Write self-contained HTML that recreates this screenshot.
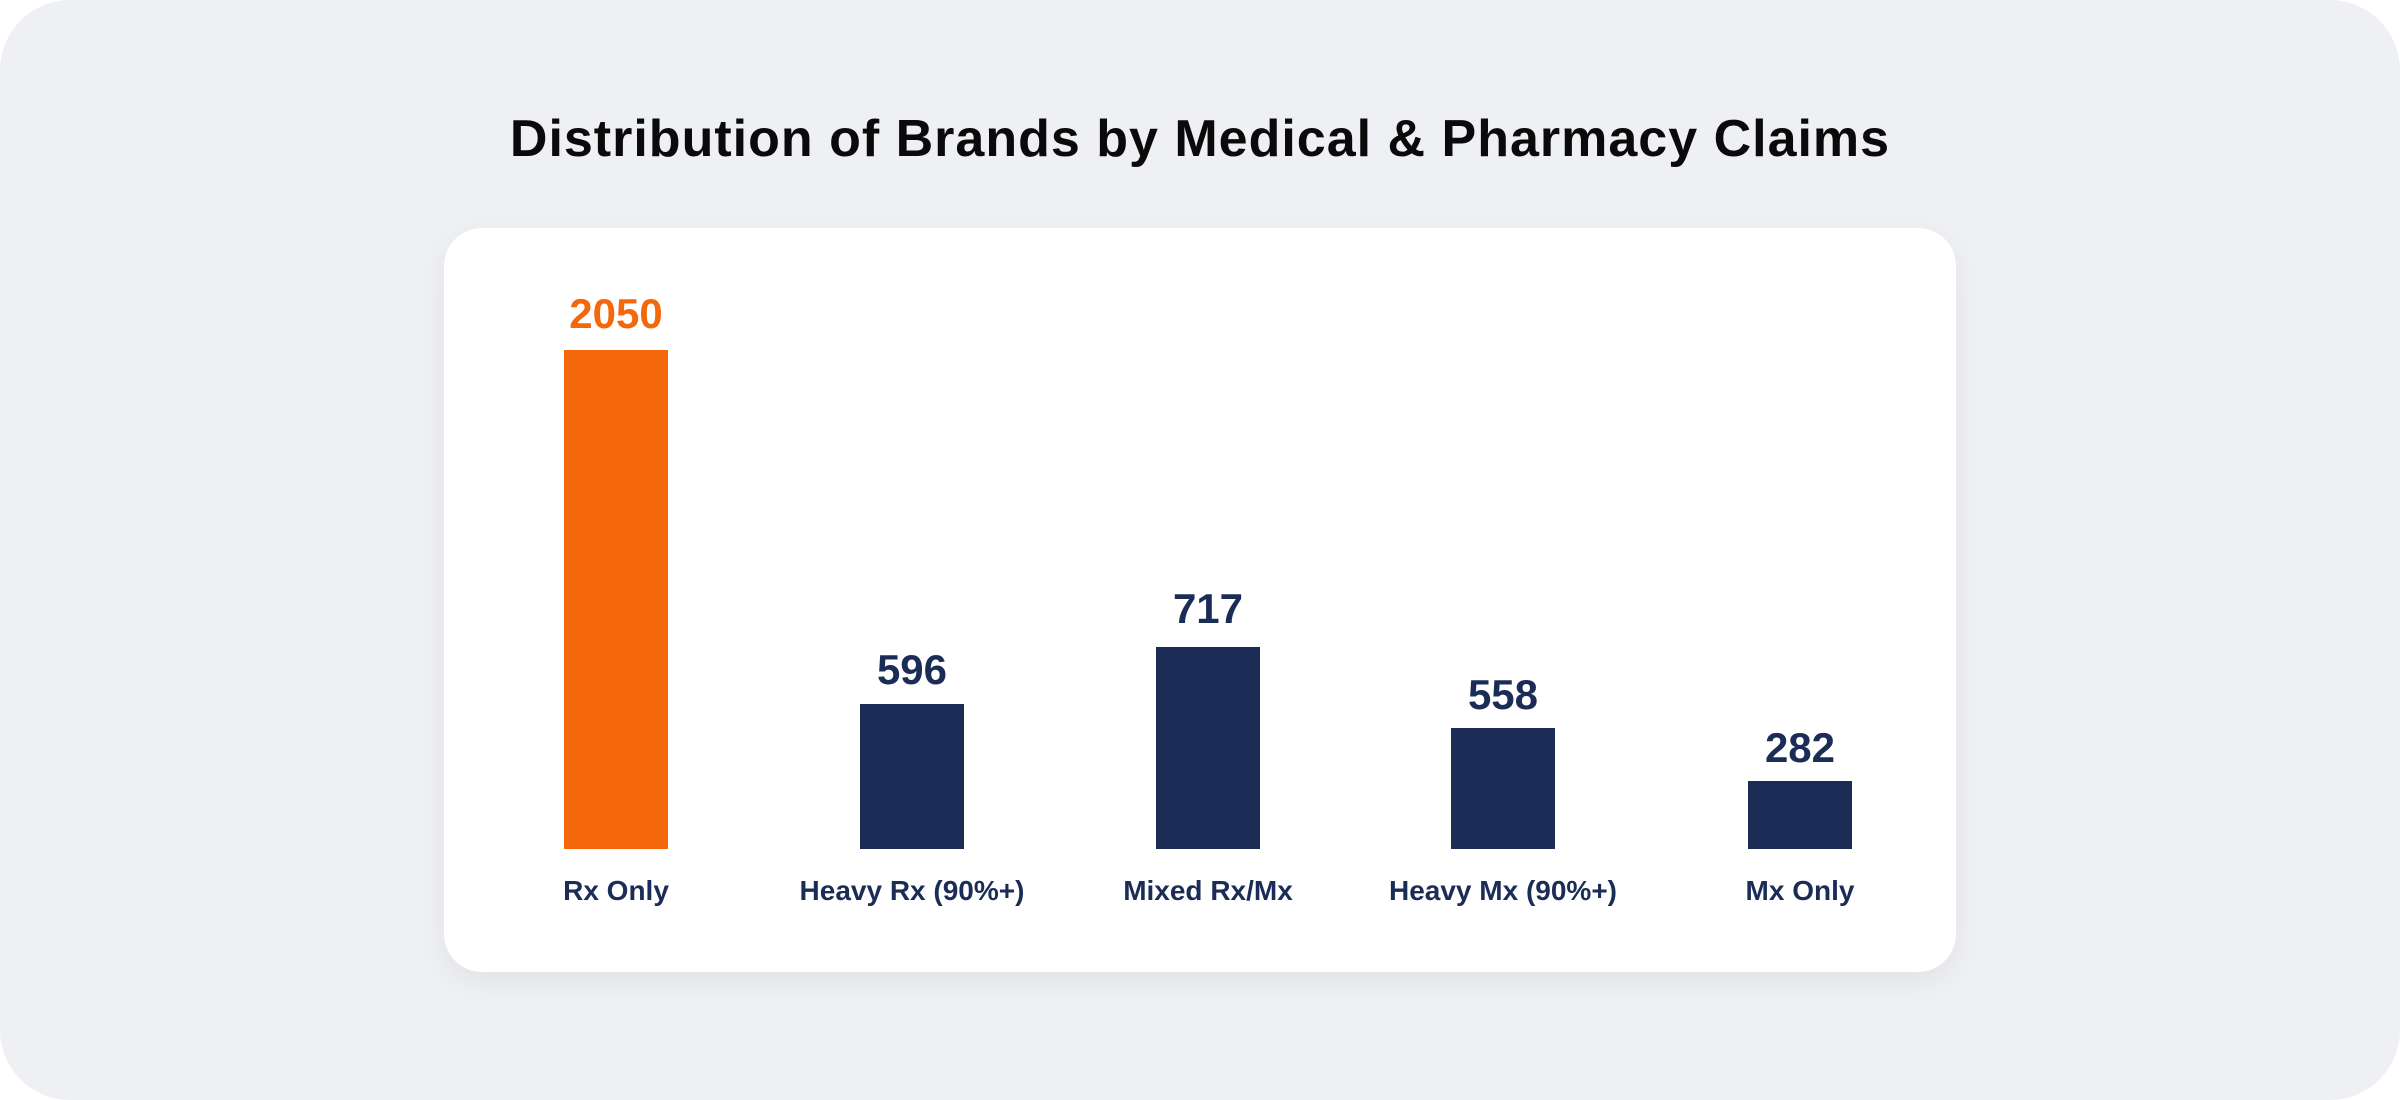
<!DOCTYPE html>
<html><head><style>
html,body{margin:0;padding:0;background:#fff;}
#bg{position:absolute;left:0;top:0;width:2400px;height:1100px;background:#eff0f4;border-radius:70px;}
#title{position:absolute;left:0;width:2400px;top:109px;text-align:center;font:bold 52px "Liberation Sans",sans-serif;letter-spacing:1px;color:#0a0a0a;}
#card{position:absolute;left:444px;top:228px;width:1512px;height:744px;background:#fff;border-radius:38px;box-shadow:0 10px 30px rgba(0,0,0,0.06);}
.bar{position:absolute;width:104px;background:#1b2d56;}
.v{position:absolute;width:300px;text-align:center;font:bold 42px "Liberation Sans",sans-serif;color:#1b2d56;line-height:42px;}
.c{position:absolute;width:400px;text-align:center;font:bold 28px "Liberation Sans",sans-serif;color:#1b2d56;line-height:30px;top:876px;}
</style></head><body>
<div id="bg"></div>
<div id="title">Distribution of Brands by Medical &amp; Pharmacy Claims</div>
<div id="card"></div>
<div class="bar" style="left:564px;top:350px;height:499px;background:#f4680b"></div>
<div class="bar" style="left:860px;top:704px;height:145px"></div>
<div class="bar" style="left:1156px;top:647px;height:202px"></div>
<div class="bar" style="left:1451px;top:728px;height:121px"></div>
<div class="bar" style="left:1748px;top:781px;height:68px"></div>
<div class="v" style="left:466px;top:293px;color:#f4680b">2050</div>
<div class="v" style="left:762px;top:649px">596</div>
<div class="v" style="left:1058px;top:588px">717</div>
<div class="v" style="left:1353px;top:674px">558</div>
<div class="v" style="left:1650px;top:727px">282</div>
<div class="c" style="left:416px">Rx Only</div>
<div class="c" style="left:712px">Heavy Rx (90%+)</div>
<div class="c" style="left:1008px">Mixed Rx/Mx</div>
<div class="c" style="left:1303px">Heavy Mx (90%+)</div>
<div class="c" style="left:1600px">Mx Only</div>
</body></html>
